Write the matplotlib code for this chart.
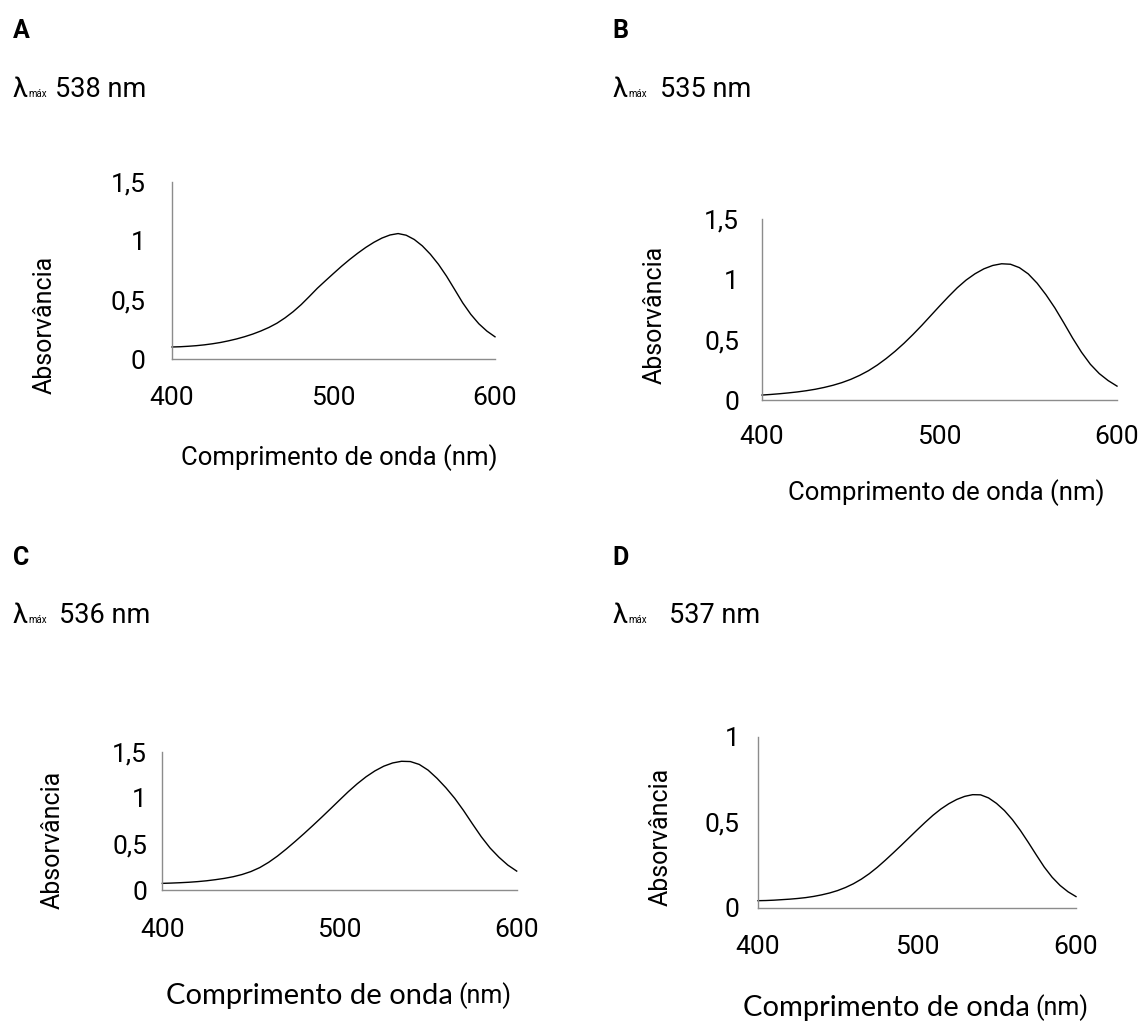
import matplotlib
matplotlib.use("Agg")
import matplotlib.pyplot as plt

# ---------------- data ----------------
wavelength = [400, 405, 410, 415, 420, 425, 430, 435, 440, 445,
              450, 455, 460, 465, 470, 475, 480, 485, 490, 495,
              500, 505, 510, 515, 520, 525, 530, 535, 540, 545,
              550, 555, 560, 565, 570, 575, 580, 585, 590, 595, 600]

absorb_A = [0.104, 0.106, 0.110, 0.115, 0.122, 0.131, 0.142, 0.156, 0.172, 0.191,
            0.213, 0.239, 0.269, 0.305, 0.350, 0.402, 0.462, 0.530, 0.600, 0.663,
            0.725, 0.786, 0.843, 0.896, 0.945, 0.988, 1.024, 1.050, 1.062, 1.048,
            1.012, 0.958, 0.887, 0.802, 0.702, 0.590, 0.477, 0.380, 0.300, 0.238, 0.190]

absorb_B = [0.041, 0.046, 0.052, 0.059, 0.067, 0.077, 0.089, 0.104, 0.122, 0.144,
            0.171, 0.204, 0.243, 0.290, 0.344, 0.404, 0.470, 0.542, 0.618, 0.698,
            0.778, 0.856, 0.930, 0.994, 1.046, 1.087, 1.115, 1.129, 1.125, 1.097,
            1.045, 0.968, 0.872, 0.763, 0.640, 0.513, 0.396, 0.296, 0.219, 0.161, 0.115]

absorb_C = [0.072, 0.075, 0.079, 0.084, 0.091, 0.100, 0.112, 0.126, 0.144, 0.168,
            0.200, 0.243, 0.300, 0.368, 0.445, 0.527, 0.612, 0.700, 0.790, 0.882,
            0.975, 1.067, 1.152, 1.228, 1.292, 1.343, 1.378, 1.396, 1.393, 1.362,
            1.300, 1.212, 1.110, 0.995, 0.862, 0.718, 0.578, 0.455, 0.355, 0.270, 0.205]

absorb_D = [0.041, 0.042, 0.044, 0.047, 0.050, 0.054, 0.059, 0.066, 0.075, 0.086,
            0.100, 0.118, 0.140, 0.167, 0.199, 0.236, 0.277, 0.320, 0.364, 0.409,
            0.454, 0.498, 0.540, 0.577, 0.608, 0.633, 0.651, 0.661, 0.660, 0.642,
            0.610, 0.568, 0.515, 0.452, 0.382, 0.309, 0.238, 0.178, 0.130, 0.093, 0.065]

panel_letters = ["A", "B", "C", "D"]
lambda_values = ["538 nm", "535 nm", "536 nm", "537 nm"]
x_ticks = [400, 500, 600]
x_tick_labels = ["400", "500", "600"]
y_ticks_15 = [0, 0.5, 1, 1.5]
y_tick_labels_15 = ["0", "0,5", "1", "1,5"]
y_ticks_10 = [0, 0.5, 1]
y_tick_labels_10 = ["0", "0,5", "1"]
y_label = "Absorvância"
x_label = "Comprimento de onda (nm)"
x_label_main = "Comprimento de onda"
x_label_unit = "(nm)"

# ---------------- layout ----------------
W, H = 1145, 1024
FONT = "Roboto"
AXIS_GREY = "#8c8c8c"

plt.rcParams["font.family"] = [FONT, "DejaVu Sans"]

fig = plt.figure(figsize=(W / 100, H / 100), dpi=100)


def fx(px):
    return px / W


def fy(py):
    return 1 - py / H


panels = [
    dict(y=absorb_A, box=(172, 495, 181.7, 359.3), ymax=1.5,
         yt=y_ticks_15, ytl=y_tick_labels_15, letter=(12.5, 38),
         lam=(12.5, 97), sub_dx=16, val_x=55, ylab=(44.5, 325), xlab=(339, 458),
         ypad=19, xpad=19, mixed=False),
    dict(y=absorb_B, box=(762, 1117, 219, 400), ymax=1.5,
         yt=y_ticks_15, ytl=y_tick_labels_15, letter=(612.6, 38),
         lam=(612.6, 97), sub_dx=16, val_x=660, ylab=(655, 315), xlab=(946, 493),
         ypad=16.5, xpad=18, mixed=False),
    dict(y=absorb_C, box=(162.3, 516.7, 751.7, 890), ymax=1.5,
         yt=y_ticks_15, ytl=y_tick_labels_15, letter=(12.5, 565),
         lam=(12.5, 623), sub_dx=16, val_x=59, ylab=(52.5, 840), xlab=(165.5, 996),
         ypad=11, xpad=20, mixed=True),
    dict(y=absorb_D, box=(758, 1076, 736.7, 907.7), ymax=1.0,
         yt=y_ticks_10, ytl=y_tick_labels_10, letter=(612.6, 565),
         lam=(612.6, 623), sub_dx=16, val_x=669, ylab=(660.5, 836.5), xlab=(743, 1008),
         ypad=13.5, xpad=19.5, mixed=True),
]

for i, p in enumerate(panels):
    x0, x1, yt, yb = p["box"]
    ax = fig.add_axes([fx(x0), fy(yb), fx(x1 - x0), (yb - yt) / H])
    ax.plot(wavelength, p["y"], color="black", lw=1.0, clip_on=False,
            solid_joinstyle="round")
    ax.set_xlim(400, 600)
    ax.set_ylim(0, p["ymax"])
    for s in ("top", "right"):
        ax.spines[s].set_visible(False)
    for s in ("left", "bottom"):
        ax.spines[s].set_color(AXIS_GREY)
        ax.spines[s].set_linewidth(1.0)
    ax.set_xticks(x_ticks)
    ax.set_xticklabels(x_tick_labels)
    ax.set_yticks(p["yt"])
    ax.set_yticklabels(p["ytl"])
    ax.tick_params(axis="both", length=0, labelsize=19, colors="black")
    ax.tick_params(axis="y", pad=p["ypad"])
    ax.tick_params(axis="x", pad=p["xpad"])

    # y label
    ax.set_ylabel(y_label, fontsize=18, va="center", ha="center")
    ax.yaxis.set_label_coords((p["ylab"][0] - x0) / (x1 - x0),
                              (yb - p["ylab"][1]) / (yb - yt))

    # x label
    lx = (p["xlab"][0] - x0) / (x1 - x0)
    ly = (yb - p["xlab"][1]) / (yb - yt)
    if not p["mixed"]:
        ax.set_xlabel(x_label, fontsize=18.5, va="center", ha="center")
        ax.xaxis.set_label_coords(lx, ly)
    else:
        # main words in a wider humanist face, unit in the narrow face
        main = ax.text(lx, ly, x_label_main, transform=ax.transAxes,
                       fontsize=21, family=["Lato", "DejaVu Sans"],
                       ha="left", va="center")
        ax.annotate(x_label_unit, xy=(1, 0), xycoords=main,
                    xytext=(4, 0), textcoords="offset points",
                    fontsize=18, ha="left", va="bottom")

    # panel letter
    lxp, lyp = p["letter"]
    fig.text(fx(lxp), fy(lyp), panel_letters[i], fontsize=18,
             fontweight="bold", ha="left", va="baseline")

    # lambda max
    lamx, lamy = p["lam"]
    fig.text(fx(lamx), fy(lamy), "λ", fontsize=19.5, ha="left", va="baseline")
    fig.text(fx(lamx + p["sub_dx"]), fy(lamy), "máx", fontsize=7,
             ha="left", va="baseline")
    fig.text(fx(p["val_x"]), fy(lamy), lambda_values[i], fontsize=19.5,
             ha="left", va="baseline")

fig.savefig("out.png", dpi=100, facecolor="white")
